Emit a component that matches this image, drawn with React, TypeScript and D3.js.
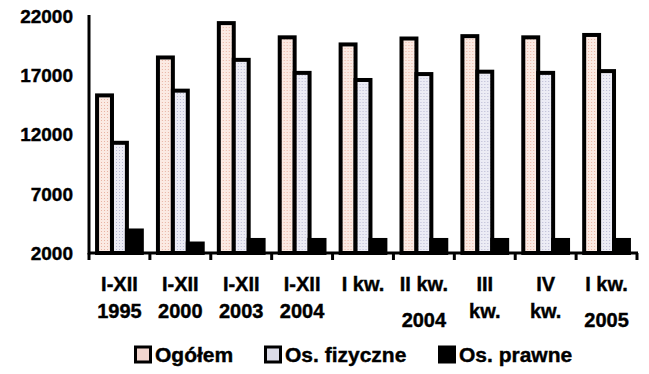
import React from 'react';
import * as d3 from 'd3';

// category labels (two lines, some second lines sit lower)
const labelTop = ['I-XII', 'I-XII', 'I-XII', 'I-XII', 'I kw.', 'II kw.', 'III', 'IV', 'I kw.'];
const labelBottom = ['1995', '2000', '2003', '2004', '', '2004', 'kw.', 'kw.', '2005'];
const labelLow = [false, false, false, false, false, true, false, false, true];

const seriesNames = ['Ogółem', 'Os. fizyczne', 'Os. prawne'];
const ogolem = [15300, 18500, 21400, 20200, 19600, 20100, 20300, 20200, 20400];
const fizyczne = [11300, 15700, 18300, 17200, 16600, 17100, 17300, 17200, 17350];
const prawne = [3900, 2800, 3100, 3100, 3100, 3100, 3100, 3100, 3100];

const yTicks = [2000, 7000, 12000, 17000, 22000];

const W = 649;
const H = 374;
const FONT = '"Liberation Sans", Arial, sans-serif';

const App: React.FC = () => {
  const seriesValues = [ogolem, fizyczne, prawne];
  const idx = labelTop.map((_, i) => String(i));

  const x0 = d3.scaleBand().domain(idx).range([89, 637]);
  const x1 = d3.scaleBand().domain(seriesNames).range([0, x0.bandwidth()]).paddingOuter(0.54);
  const y = d3.scaleLinear().domain([2000, 22000]).range([253, 16]);

  const fills = ['url(#pat-og)', 'url(#pat-fz)', '#000'];
  const legendFills = ['#f2d6cf', '#dcdce8', '#000'];
  const legendX = [134, 264, 438];

  return (
    <svg width={W} height={H} style={{ position: 'absolute', left: 0, top: 0 }} fontFamily={FONT}>
      <defs>
        <pattern id="pat-og" width="3" height="3" patternUnits="userSpaceOnUse">
          <rect width="3" height="3" fill="#fbeae3" />
          <rect width="1" height="1" fill="#e8b4a4" />
        </pattern>
        <pattern id="pat-fz" width="3" height="3" patternUnits="userSpaceOnUse">
          <rect width="3" height="3" fill="#ececf5" />
          <rect width="1" height="1" fill="#b8b8d2" />
        </pattern>
      </defs>
      <rect width={W} height={H} fill="#fff" />

      {/* bars */}
      {idx.map((c, i) => (
        <g key={c} transform={`translate(${x0(c)},0)`}>
          {seriesNames.map((s, k) => {
            const v = seriesValues[k][i];
            return (
              <rect
                key={s}
                x={x1(s)}
                y={y(v)}
                width={x1.bandwidth()}
                height={y(2000) - y(v)}
                fill={fills[k]}
                stroke="#000"
                strokeWidth={4}
              />
            );
          })}
        </g>
      ))}

      {/* axes */}
      <line x1={89} x2={89} y1={15} y2={y(2000) + 1.5} stroke="#000" strokeWidth={3} />
      <line x1={88} x2={638} y1={y(2000)} y2={y(2000)} stroke="#000" strokeWidth={3} />
      {[...idx.map((c) => x0(c) as number), 637].map((t, i) => (
        <line key={`t-${i}`} x1={t} x2={t} y1={y(2000)} y2={y(2000) + 7} stroke="#000" strokeWidth={3} />
      ))}

      {/* y labels */}
      <g fontSize={19} fontWeight="bold" stroke="#000" strokeWidth={0.4} textAnchor="end">
        {yTicks.map((t) => (
          <text key={t} x={73} y={y(t)} dy="0.36em">
            {t}
          </text>
        ))}
      </g>

      {/* x labels */}
      {idx.map((c, i) => {
        const cx = (x0(c) as number) + x0.bandwidth() / 2;
        return (
          <g key={`lab-${c}`} fontSize={20} fontWeight="bold" textAnchor="middle" stroke="#000" strokeWidth={0.4}>
            <text x={cx} y={291}>{labelTop[i]}</text>
            {labelBottom[i] && (
              <text x={cx} y={labelLow[i] ? 327 : 318}>{labelBottom[i]}</text>
            )}
          </g>
        );
      })}

      {/* legend */}
      {seriesNames.map((s, k) => (
        <g key={`leg-${s}`} transform={`translate(${legendX[k]},347)`}>
          <rect x={1.5} y={0} width={15} height={15} fill={legendFills[k]} stroke="#000" strokeWidth={3} />
          <text x={21} y={15} fontSize={21} fontWeight="bold" stroke="#000" strokeWidth={0.4}>{s}</text>
        </g>
      ))}
    </svg>
  );
};

export default App;
